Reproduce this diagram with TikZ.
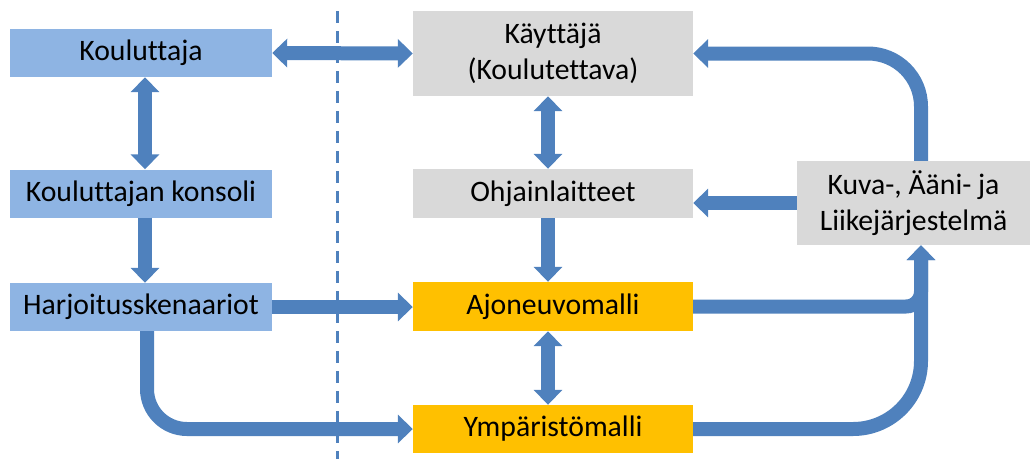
\documentclass[tikz,border=0pt]{standalone}
\usepackage{fontspec}
\setmainfont{Carlito}[Ligatures=NoCommon]
\usetikzlibrary{arrows.meta,calc}

\definecolor{flowblue}{HTML}{4F81BD}
\definecolor{trainerfill}{HTML}{8EB4E3}
\definecolor{userfill}{HTML}{D9D9D9}
\definecolor{modelfill}{HTML}{FFC000}

\tikzset{
  box/.style={rectangle, inner sep=0pt, align=center,
    font=\fontsize{29.7}{36}\selectfont, text=black},
  trainer/.style={box, fill=trainerfill, minimum width=262, minimum height=48},
  device/.style={box, fill=userfill, minimum width=280, minimum height=49},
  model/.style={box, fill=modelfill, minimum width=280, minimum height=49},
  flow/.style={draw=flowblue, line width=14pt,
    arrows={-Triangle[width=28pt,length=15pt]}},
  flowboth/.style={draw=flowblue, line width=14pt,
    arrows={Triangle[width=28pt,length=15pt]-Triangle[width=28pt,length=15pt]}},
  divider/.style={draw=flowblue, line width=3pt, dash pattern=on 12pt off 8pt}
}

\begin{document}
\begin{tikzpicture}[x=1pt,y=-1pt]
  \useasboundingbox (0,0) rectangle (1031,459);

  % trainer side
  \node[trainer] (kou) at (141,53) {Kouluttaja};
  \node[trainer] (kon) at (141,193.5) {Kouluttajan konsoli};
  \node[trainer] (har) at (141,307) {Harjoitusskenaariot};

  % simulator side
  \node[device, minimum height=85] (kay) at (553,53.5) {Käyttäjä\\(Koulutettava)};
  \node[device] (ohj) at (553,193.5) {Ohjainlaitteet};
  \node[model] (ajo) at (553,306.5) {Ajoneuvomalli};
  \node[model, minimum height=48] (ymp) at (553,429) {Ympäristömalli};
  \node[device, minimum width=233, minimum height=84] (kuva) at (913.5,203)
    {Kuva-, Ääni- ja\\Liikejärjestelmä};

  % column guides for the vertical connectors
  \coordinate (lcol) at (145,0);
  \coordinate (lcurve) at (147,0);
  \coordinate (mcol) at (548,0);
  \coordinate (rcol) at (921,0);

  % dividing line between trainer and simulator
  \coordinate (divtop) at (337,11);
  \coordinate (divbot) at (337,459);
  \path[divider] (divtop) -- (divbot);

  % trainer connectors
  \path[flowboth] (kou.east) -- (kay.west);
  \path[flowboth] (kou.south -| lcol) -- (kon.north -| lcol);
  \path[flow] (kon.south -| lcol) -- (har.north -| lcol);
  \path[flow] (har.east) -- (har.east -| ajo.west);
  \path[flow, rounded corners=40pt] (har.south -| lcurve) |- (ymp.west);

  % simulator connectors
  \path[flowboth] (kay.south -| mcol) -- (ohj.north -| mcol);
  \path[flow] (ohj.south -| mcol) -- (ajo.north -| mcol);
  \path[flowboth] (ajo.south -| mcol) -- (ymp.north -| mcol);
  \path[flow] (kuva.west) -- (kuva.west -| ohj.east);
  \path[flow, rounded corners=53pt] (kuva.north -| rcol) |- (kay.east);
  \path[flow, rounded corners=68pt] (ymp.east) -| (kuva.south -| rcol);
  \path[flow, rounded corners=15pt] (ajo.east) -| (kuva.south -| rcol);
\end{tikzpicture}
\end{document}
